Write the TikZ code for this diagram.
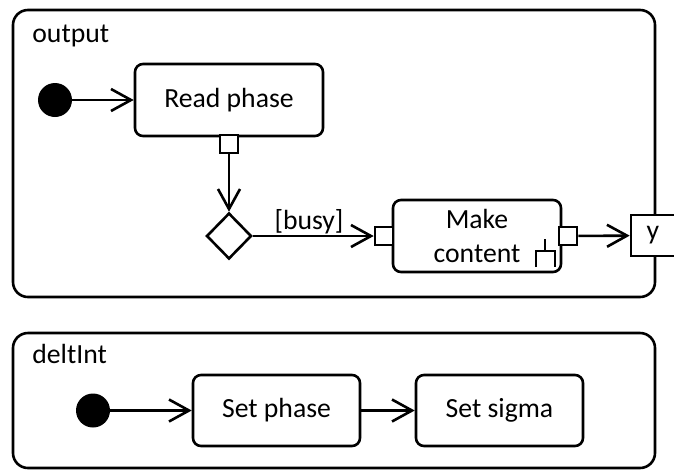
\documentclass[tikz,border=0pt]{standalone}
\usepackage{fontspec}
\setmainfont{Carlito}
\usetikzlibrary{arrows.meta,shapes.geometric}
\begin{document}
\begin{tikzpicture}[x=0.5pt,y=-0.5pt,
  every node/.style={font=\fontsize{13.85}{16.9}\selectfont},
  lw/.style={line width=1.3pt},
  frame/.style={draw,lw,rounded corners=7.5pt,minimum width=321pt,inner sep=0pt},
  action/.style={draw,lw,fill=white,rounded corners=4pt,align=center,inner sep=0pt},
  pinbox/.style={draw,fill=white,lw,minimum size=9pt,inner sep=0pt},
  start/.style={circle,fill=black,minimum size=17pt,inner sep=0pt},
  decision/.style={diamond,draw,lw,fill=white,minimum width=22.5pt,minimum height=23pt,inner sep=0pt},
  arr/.style={lw,-{Straight Barb[length=10pt,width=11pt]}},
  rake/.style={line width=0.9pt},
]
\useasboundingbox (0,0) rectangle (674,472);
\clip (0,0) rectangle (674,472);

% activity frames
\node[frame,minimum height=143.5pt] (outF) at (334,153.5) {};
\node[frame,minimum height=67.5pt] (dIntF) at (334,400.5) {};
\node[anchor=base west,inner sep=0pt] (outL) at (32,42) {output};
\node[anchor=base west,inner sep=0pt] (dIntL) at (32,363) {deltInt};

% output activity
\node[start] (s1) at (55,100) {};
\node[action,minimum width=94pt,minimum height=36pt] (read) at (229,100) {Read phase};
\node[pinbox] (rpin) at (229,144) {};
\node[decision] (dec) at (229,236) {};
\node[action,minimum width=84pt,minimum height=36pt] (make) at (477,236) {Make\\content};
% rake: call-behavior marker
\draw[rake] (545,239) -- (545,251);
\draw[rake] (536,267) -- (536,251) -- (555,251) -- (555,267);
\node[pinbox] (mpinL) at (384,236) {};
\node[pinbox] (mpinR) at (568,236) {};
\node[pinbox,minimum width=22pt,minimum height=20.5pt] (ypin) at (653,235.5) {y};
\node[anchor=south,inner sep=0.7pt] (busy) at (309,236) {[busy]};

\draw[arr] (s1) -- (read);
\draw[arr] (rpin) -- (dec);
\draw[arr] (dec) -- (mpinL);
\draw[arr] (mpinR) -- (ypin);

% deltInt activity
\node[start] (s2) at (93,410.5) {};
\node[action,minimum width=83.5pt,minimum height=35.5pt] (setp) at (276.5,410.5) {Set phase};
\node[action,minimum width=83.5pt,minimum height=35.5pt] (sets) at (499.5,410.5) {Set sigma};
\draw[arr] (s2) -- (setp);
\draw[arr] (setp) -- (sets);
\end{tikzpicture}
\end{document}
